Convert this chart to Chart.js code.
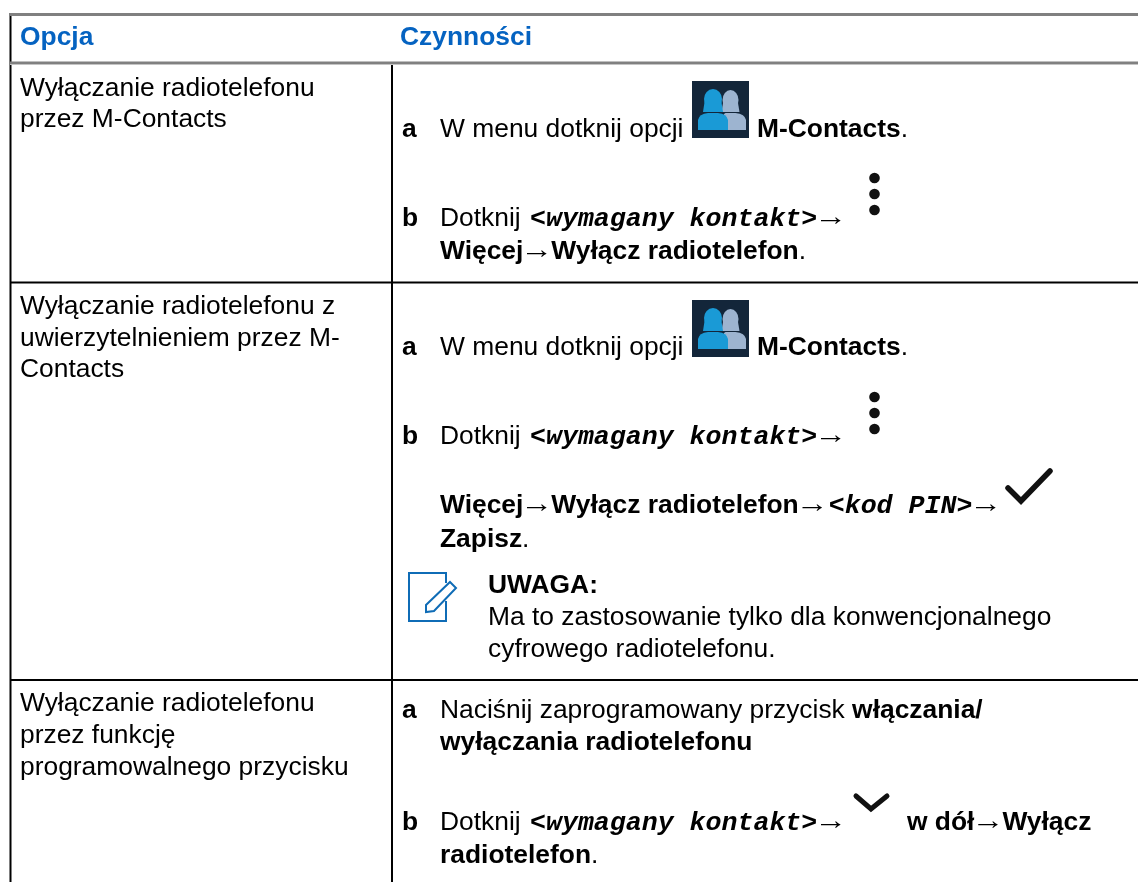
<!DOCTYPE html>
<html lang="pl">
<head>
<meta charset="utf-8">
<title>Opcja / Czynności</title>
<script src="https://cdn.jsdelivr.net/npm/chart.js@4/dist/chart.umd.min.js"></script>
<style>
html, body { margin: 0; padding: 0; background: #fff; }
#wrap { width: 1138px; height: 882px; }
</style>
</head>
<body>
<div id="wrap"><canvas id="tableChart"></canvas></div>
<script>
/* table content */
const headers = ['Opcja', 'Czynności'];
const optionLines = [
    'Wyłączanie radiotelefonu', 'przez M-Contacts',
    'Wyłączanie radiotelefonu z', 'uwierzytelnieniem przez M-', 'Contacts',
    'Wyłączanie radiotelefonu', 'przez funkcję', 'programowalnego przycisku'
];
const stepLetters = ['a', 'b', 'a', 'b', 'a', 'b'];
// n = normal, b = bold, m = mono bold italic, r = arrow
const stepRuns = [
    [['W menu dotknij opcji', 'n']],
    [['M-Contacts', 'b'], ['.', 'n']],
    [['Dotknij ', 'n'], ['<wymagany kontakt>', 'm'], ['→', 'r']],
    [['Więcej', 'b'], ['→', 'r'], ['Wyłącz radiotelefon', 'b'], ['.', 'n']],
    [['W menu dotknij opcji', 'n']],
    [['M-Contacts', 'b'], ['.', 'n']],
    [['Dotknij ', 'n'], ['<wymagany kontakt>', 'm'], ['→', 'r']],
    [['Więcej', 'b'], ['→', 'r'], ['Wyłącz radiotelefon', 'b'], ['→', 'r'], ['<kod PIN>', 'm'], ['→', 'r']],
    [['Zapisz', 'b'], ['.', 'n']],
    [['UWAGA:', 'b']],
    [['Ma to zastosowanie tylko dla konwencjonalnego', 'n']],
    [['cyfrowego radiotelefonu.', 'n']],
    [['Naciśnij zaprogramowany przycisk ', 'n'], ['włączania/', 'b']],
    [['wyłączania radiotelefonu', 'b']],
    [['Dotknij ', 'n'], ['<wymagany kontakt>', 'm'], ['→', 'r']],
    [['w dół', 'b'], ['→', 'r'], ['Wyłącz', 'b']],
    [['radiotelefon', 'b'], ['.', 'n']]
];

/* layout */
const pageWidth = 1138, pageHeight = 882;
const optionBaselines = [96, 127, 314, 346, 377, 711, 743, 775];
const letterBaselines = [137, 226, 355, 444, 718, 830];
const stepPlaces = [
    [440, 137], [757, 137], [440, 226], [440, 259],
    [440, 355], [757, 355], [440, 444], [440, 513], [440, 547],
    [488, 593], [488, 625], [488, 657],
    [440, 718], [440, 750], [440, 830], [907, 830], [440, 863]
];
const fontSize = 26.4;
const fonts = {
    n: `${fontSize}px "Liberation Sans"`,
    b: `bold ${fontSize}px "Liberation Sans"`,
    m: `italic bold 26.6px "Liberation Mono"`,
    r: `${fontSize}px "Liberation Serif"`
};
const arrowAdvance = 28, arrowStretch = 1.25, monoGap = 2;
const iconTops = [81, 300];
const dotRows = [[178, 194, 210], [397, 413, 429]];

const tableLines = {
    id: 'tableLines',
    beforeDatasetsDraw(chart) {
        const { ctx, scales: { x, y } } = chart;
        const line = (x0, y0, x1, y1, color, width) => {
            ctx.strokeStyle = color;
            ctx.lineWidth = width;
            ctx.beginPath();
            ctx.moveTo(x.getPixelForValue(x0), y.getPixelForValue(y0));
            ctx.lineTo(x.getPixelForValue(x1), y.getPixelForValue(y1));
            ctx.stroke();
        };
        ctx.save();
        line(10.5, 13, 10.5, 882, '#000', 2);
        line(392, 63, 392, 882, '#000', 2);
        line(10, 14.5, 1138, 14.5, '#808080', 3);
        line(10, 63, 1138, 63, '#808080', 3);
        line(10, 64.5, 1138, 64.5, '#c4c4c4', 1);
        line(10, 282.5, 1138, 282.5, '#000', 2);
        line(10, 680, 1138, 680, '#000', 2);
        ctx.restore();
    }
};

const drawContacts = (ctx, left, top) => {
    ctx.fillStyle = '#13263a';
    ctx.fillRect(left, top, 57, 57);
    const person = (cx, headTop, bodyL, bodyR, rx, color) => {
        ctx.fillStyle = color;
        ctx.beginPath();
        ctx.ellipse(cx, headTop + 9, rx, 10, 0, 0, Math.PI * 2);
        ctx.fill();
        ctx.beginPath();
        ctx.moveTo(cx - rx + 1, headTop + 9);
        ctx.lineTo(cx - rx - 1, top + 31);
        ctx.lineTo(cx + rx + 1, top + 31);
        ctx.lineTo(cx + rx - 1, headTop + 9);
        ctx.closePath();
        ctx.fill();
        ctx.beginPath();
        ctx.moveTo(bodyL, top + 49);
        ctx.lineTo(bodyL, top + 39);
        ctx.quadraticCurveTo(bodyL + 1, top + 33, cx - 5, top + 32);
        ctx.lineTo(cx + 5, top + 32);
        ctx.quadraticCurveTo(bodyR - 1, top + 33, bodyR, top + 39);
        ctx.lineTo(bodyR, top + 49);
        ctx.closePath();
        ctx.fill();
    };
    person(left + 38.5, top + 10, left + 30, left + 54, 8, '#9db4d0');
    person(left + 21, top + 9, left + 6, left + 36, 9, '#1a9ad6');
};

const drawNote = (ctx) => {
    ctx.strokeStyle = '#0f6cb6';
    ctx.lineWidth = 2;
    ctx.beginPath();
    ctx.moveTo(446, 583);
    ctx.lineTo(446, 573);
    ctx.lineTo(409, 573);
    ctx.lineTo(409, 621);
    ctx.lineTo(446, 621);
    ctx.lineTo(446, 601);
    ctx.stroke();
    ctx.beginPath();
    ctx.moveTo(450, 582);
    ctx.lineTo(456, 588);
    ctx.lineTo(434, 611);
    ctx.lineTo(426, 612);
    ctx.lineTo(426, 605);
    ctx.closePath();
    ctx.stroke();
};

const drawMarks = {
    id: 'drawMarks',
    afterDatasetsDraw(chart) {
        const { ctx, scales: { x, y } } = chart;
        ctx.save();
        iconTops.forEach(t => drawContacts(ctx, x.getPixelForValue(692), y.getPixelForValue(t)));
        ctx.fillStyle = '#111';
        dotRows.flat().forEach(d => {
            ctx.beginPath();
            ctx.arc(x.getPixelForValue(874.5), y.getPixelForValue(d), 5.3, 0, Math.PI * 2);
            ctx.fill();
        });
        ctx.strokeStyle = '#111';
        ctx.lineCap = 'round';
        ctx.lineWidth = 5;
        ctx.beginPath();
        ctx.moveTo(856, 796);
        ctx.lineTo(871, 809);
        ctx.lineTo(887, 796);
        ctx.stroke();
        ctx.lineWidth = 5.5;
        ctx.beginPath();
        ctx.moveTo(1008, 488);
        ctx.lineTo(1021, 501);
        ctx.lineTo(1050, 471);
        ctx.stroke();
        ctx.lineCap = 'butt';
        drawNote(ctx);
        ctx.restore();
    }
};

const tableText = {
    id: 'tableText',
    afterDatasetsDraw(chart) {
        const { ctx, scales: { x, y } } = chart;
        const run = (runs, px, py) => {
            let cx = x.getPixelForValue(px);
            const cy = y.getPixelForValue(py);
            runs.forEach(([text, kind]) => {
                ctx.font = fonts[kind];
                if (kind === 'r') {
                    ctx.save();
                    ctx.translate(cx - 3, cy - 1);
                    ctx.scale(arrowStretch, 1);
                    ctx.fillText(text, 0, 0);
                    ctx.restore();
                    cx += arrowAdvance;
                    return;
                }
                if (kind === 'm') cx += monoGap;
                ctx.fillText(text, cx, cy);
                cx += ctx.measureText(text).width;
            });
        };
        ctx.save();
        ctx.textBaseline = 'alphabetic';
        ctx.fillStyle = '#0563c1';
        ctx.font = fonts.b;
        ctx.fillText(headers[0], x.getPixelForValue(20), y.getPixelForValue(45));
        ctx.fillText(headers[1], x.getPixelForValue(400), y.getPixelForValue(45));
        ctx.fillStyle = '#000';
        optionLines.forEach((t, i) => run([[t, 'n']], 20, optionBaselines[i]));
        stepLetters.forEach((l, i) => run([[l, 'b']], 402, letterBaselines[i]));
        stepRuns.forEach((runs, i) => run(runs, stepPlaces[i][0], stepPlaces[i][1]));
        ctx.restore();
    }
};

new Chart(document.getElementById('tableChart'), {
    type: 'scatter',
    data: { datasets: [] },
    options: {
        responsive: true,
        maintainAspectRatio: false,
        animation: false,
        layout: { padding: 0 },
        plugins: { legend: { display: false }, tooltip: { enabled: false } },
        scales: {
            x: { type: 'linear', display: false, min: 0, max: pageWidth },
            y: { type: 'linear', display: false, min: 0, max: pageHeight, reverse: true }
        }
    },
    plugins: [tableLines, drawMarks, tableText]
});
</script>
</body>
</html>
